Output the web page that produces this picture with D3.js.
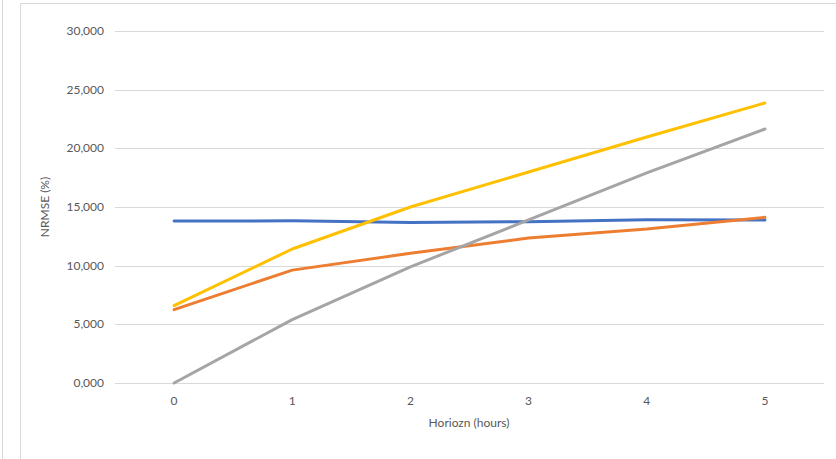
<!DOCTYPE html>
<html>
<head>
<meta charset="utf-8">
<script src="https://cdn.jsdelivr.net/npm/d3@7"></script>
<style>
  body { margin: 0; background: #fff; }
  text { font-family: Lato, "Open Sans", sans-serif; fill: #595959; }
</style>
</head>
<body>
<div id="chart"></div>
<script>
// horizon steps and the four series (NRMSE %)
var horizons = [0, 1, 2, 3, 4, 5];
var series1 = [13.8, 13.82, 13.68, 13.75, 13.92, 13.9];
var series2 = [6.25, 9.62, 11.05, 12.36, 13.12, 14.12];
var series3 = [6.6, 11.42, 15.0, 17.98, 20.97, 23.86];
var series4 = [0.0, 5.4, 9.9, 13.9, 17.9, 21.65];
var yTicks = [0, 5, 10, 15, 20, 25, 30];
var colors = ['#4472C4', '#ED7D31', '#FFC000', '#A5A5A5'];

var w = 836, h = 459;

var svg = d3.select('#chart').append('svg')
  .attr('width', w)
  .attr('height', h);

// outer frame bits
svg.append('line').attr('x1', 2.5).attr('x2', 2.5).attr('y1', 0).attr('y2', h)
  .attr('stroke', '#d9d9d9');
svg.append('path').attr('d', 'M20.5,' + h + 'V3.5H' + w)
  .attr('fill', 'none').attr('stroke', '#d9d9d9');

var x = d3.scaleBand().domain(horizons).range([115, 824]);
var y = d3.scaleLinear().domain([0, 30]).range([383, 31]);

// gridlines
svg.selectAll('.grid')
  .data(yTicks)
  .enter().append('line')
  .attr('class', 'grid')
  .attr('x1', 115).attr('x2', 824)
  .attr('y1', function(d) { return Math.round(y(d)) + 0.5; })
  .attr('y2', function(d) { return Math.round(y(d)) + 0.5; })
  .attr('stroke', '#d9d9d9');

// y labels, decimal comma like the original
svg.selectAll('.ylab')
  .data(yTicks)
  .enter().append('text')
  .attr('class', 'ylab')
  .attr('x', 104)
  .attr('y', function(d) { return y(d) + 4; })
  .attr('text-anchor', 'end')
  .attr('font-size', 12)
  .text(function(d) { return d3.format('.3f')(d).replace('.', ','); });

// x labels
svg.selectAll('.xlab')
  .data(horizons)
  .enter().append('text')
  .attr('class', 'xlab')
  .attr('x', function(d) { return x(d) + x.bandwidth() / 2; })
  .attr('y', 405)
  .attr('text-anchor', 'middle')
  .attr('font-size', 12)
  .text(function(d) { return d; });

svg.append('text')
  .attr('x', 469).attr('y', 427)
  .attr('text-anchor', 'middle')
  .attr('font-size', 12)
  .text('Horiozn (hours)');

svg.append('text')
  .attr('transform', 'translate(49,207) rotate(-90)')
  .attr('text-anchor', 'middle')
  .attr('font-size', 12)
  .text('NRMSE (%)');

var line = d3.line()
  .x(function(d, i) { return x(horizons[i]) + x.bandwidth() / 2; })
  .y(function(d) { return y(d); });

var all = [series1, series2, series3, series4];
svg.selectAll('.series')
  .data(all)
  .enter().append('path')
  .attr('class', 'series')
  .attr('d', line)
  .attr('fill', 'none')
  .attr('stroke', function(d, i) { return colors[i]; })
  .attr('stroke-width', 3)
  .attr('stroke-linecap', 'round')
  .attr('stroke-linejoin', 'round');
</script>
</body>
</html>
